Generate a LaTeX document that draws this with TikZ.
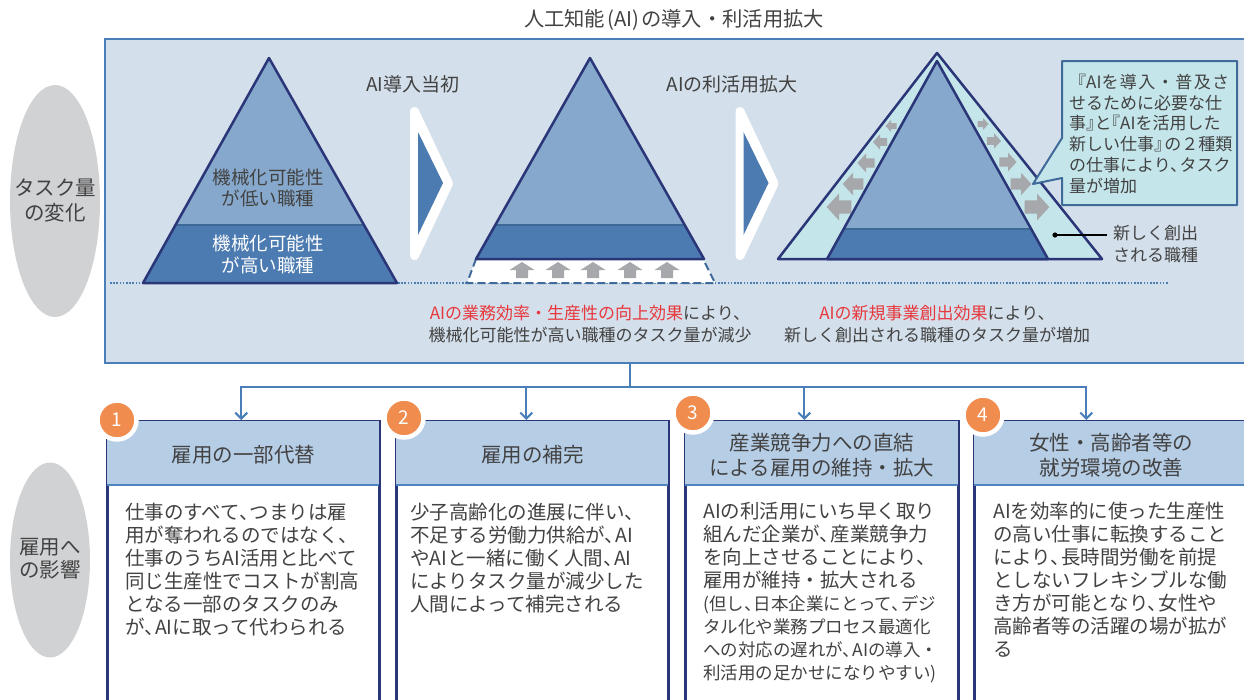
\documentclass[tikz,border=0pt]{standalone}
\usepackage{fontspec}
\setmainfont{Noto Sans CJK JP}
\usetikzlibrary{arrows.meta,calc,shapes.geometric}
\definecolor{panelfill}{HTML}{D3DFEA}
\definecolor{panelline}{HTML}{4A7EB8}
\definecolor{trilight}{HTML}{86A8CC}
\definecolor{tridark}{HTML}{4B7BB0}
\definecolor{divc}{HTML}{3E6896}
\definecolor{navy}{HTML}{2A3677}
\definecolor{cyanf}{HTML}{C4E5EA}
\definecolor{arrgray}{HTML}{A6A8AB}
\definecolor{ovalgray}{HTML}{D1D2D4}
\definecolor{headfill}{HTML}{B6CDE6}
\definecolor{orangec}{HTML}{EF8C4E}
\definecolor{redc}{HTML}{E8383D}
\definecolor{textc}{HTML}{424242}
\definecolor{sepblue}{HTML}{4F84BE}
\definecolor{dashc}{HTML}{3F6A99}
\newcommand\myfs[2]{\fontsize{#1}{#2}\selectfont}
\newcommand\tn{、\kern-.45em}
\begin{document}
\begin{tikzpicture}[x=1pt,y=-1pt,
  txt/.style={inner sep=0pt, align=center, text=textc},
  ltxt/.style={inner sep=0pt, align=left, text=textc, anchor=north west},
  ovalbox/.style={ellipse, fill=ovalgray, draw=none, inner sep=0pt},
  panelbox/.style={rectangle, fill=panelfill, draw=panelline, line width=2pt, inner sep=0pt},
  triborder/.style={draw=navy, line width=2.5pt, line join=round},
  divline/.style={draw=divc, line width=1.2pt},
  conn/.style={draw=panelline, line width=2pt},
  arrconn/.style={conn, -{Straight Barb[length=6pt,width=12pt,line width=2pt]}},
  jobbox/.style={rectangle, fill=white, draw=navy, line width=2.5pt, inner sep=0pt, anchor=north west, minimum height=300pt},
  numc/.style={circle, fill=orangec, draw=white, line width=4.5pt, minimum size=39pt, inner sep=0pt, text=white, font=\myfs{19}{22}},
  uparr/.style={fill=arrgray},
]
\useasboundingbox (0,0) rectangle (1244,699);
\clip (0,0) rectangle (1244,699);

% title
\node[txt, font=\myfs{20.3}{24}] (title) at (674,20) {人工知能\kern.1em(AI)\kern.1em の導入・利活用拡大};

% ovals
\node[ovalbox, minimum width=90pt, minimum height=232pt] (ov1) at (55,201) {};
\node[txt, font=\myfs{20.5}{25}] (ov1t) at (55,201) {タスク量\\の変化};
\node[ovalbox, minimum width=80pt, minimum height=195pt] (ov2) at (50,560) {};
\node[txt, font=\myfs{20.5}{23}] (ov2t) at (50,559) {雇用へ\\の影響};

% panel
\node[panelbox, minimum width=1150pt, minimum height=324pt, anchor=north west] (panel) at (104,38) {};

% dotted baseline
\draw[draw=panelline, line width=1.6pt, dash pattern=on 1.6pt off 1.6pt] (110,283) -- (1168,283);

% triangle 1
\begin{scope}
  \clip (269,58) -- (397,283) -- (143,283) -- cycle;
  \fill[trilight] (130,50) rectangle (410,290);
  \fill[tridark] (130,225) rectangle (410,290);
  \draw[divline] (130,225) -- (410,225);
\end{scope}
\draw[triborder] (269,58) -- (397,283) -- (143,283) -- cycle;
\node[txt, font=\myfs{18.5}{21}] (t1a) at (268,188) {機械化可能性\\が低い職種};
\node[txt, font=\myfs{18.5}{22}, text=white] (t1b) at (268,254) {機械化可能性\\が高い職種};

% chevrons
\draw[white, fill=white, line width=9pt, line join=round] (414.5,111.5) -- (448.5,183.5) -- (414.5,255.5) -- cycle;
\fill[tridark] (418,132) -- (443,183) -- (418,235) -- cycle;
\draw[white, fill=white, line width=9pt, line join=round] (740,111.5) -- (774,183.5) -- (740,255.5) -- cycle;
\fill[tridark] (743.5,132) -- (768.5,183) -- (743.5,235) -- cycle;
\node[txt, font=\myfs{19}{22}] (lab1) at (413,84) {AI導入当初};
\node[txt, font=\myfs{19}{22}] (lab2) at (732,84) {AIの利活用拡大};

% triangle 2 with dashed trapezoid
\fill[white] (476,259) -- (467,283) -- (715,283) -- (703,259) -- cycle;
\draw[draw=dashc, line width=2pt, dash pattern=on 8pt off 4pt, line join=round] (476,259) -- (467,283) -- (715,283) -- (703,259);
\foreach \ax in {522,558,593,630,667}{
  \fill[uparr] (\ax,262) -- (\ax+12.5,270) -- (\ax+6,270) -- (\ax+6,278) -- (\ax-6,278) -- (\ax-6,270) -- (\ax-12.5,270) -- cycle;
}
\begin{scope}
  \clip (590,58) -- (704,259) -- (476,259) -- cycle;
  \fill[trilight] (460,50) rectangle (720,270);
  \fill[tridark] (460,225) rectangle (720,270);
  \draw[divline] (460,225) -- (720,225);
\end{scope}
\draw[triborder] (590,58) -- (704,259) -- (476,259) -- cycle;

% triangle 3
\fill[cyanf] (937,53) -- (1102,259) -- (778,259) -- cycle;
\draw[triborder] (937,53) -- (1102,259) -- (778,259) -- cycle;
\foreach \px/\py/\s in {839/207/1.12, 853/184/0.94, 866/163/0.78, 880/142/0.64, 891/126/0.5}{
  \fill[arrgray, shift={(\px,\py)}, scale=\s] (-11,0) -- (0,-12) -- (0,-6) -- (11,-6) -- (11,6) -- (0,6) -- (0,12) -- cycle;
}
\foreach \px/\py/\s in {1037/207/1.12, 1021/184/0.94, 1008/162/0.78, 994/141/0.64, 983/124/0.5}{
  \fill[arrgray, shift={(\px,\py)}, scale=\s] (11,0) -- (0,-12) -- (0,-6) -- (-11,-6) -- (-11,6) -- (0,6) -- (0,12) -- cycle;
}
\begin{scope}
  \clip (937,61) -- (1048,259) -- (827,259) -- cycle;
  \fill[trilight] (820,50) rectangle (1060,270);
  \fill[tridark] (820,229) rectangle (1060,270);
  \draw[divline] (820,229) -- (1060,229);
\end{scope}
\draw[triborder] (937,61) -- (1048,259) -- (827,259) -- cycle;

% callout
\draw[fill=cyanf, draw=dashc, line width=2pt, line join=round] (1062,61) -- (1237,61) -- (1237,205) -- (1062,205) -- (1062,178) -- (1033,184) -- (1062,138) -- cycle;
\node[ltxt, font=\myfs{17}{20.7}] (callout) at (1069,74) {\hbox to 160pt{『AIを\hfill 導\hfill 入\hfill ・\hfill 普\hfill 及\hfill さ}\\せるために必要な仕\\事』\kern-.5em と\kern-.5em『AIを活用した\\新しい仕事』\kern-.4em の２種類\\の仕事により\tn タスク\\量が増加};

% new job label
\coordinate (dot) at (1055,235);
\node[ltxt, font=\myfs{17}{22}, anchor=west] (newjob) at (1113,244) {新しく創出\\される職種};
\fill[black] (dot) circle (2.6pt);
\draw[black, line width=1.3pt, shorten >=6pt] (dot) -- (dot -| newjob.west);

% panel bottom texts
\node[txt, font=\myfs{17}{22}] (eff1) at (590,324) {\textcolor{redc}{AIの業務効率・生産性の向上効果}により、\\機械化可能性が高い職種のタスク量が減少};
\node[txt, font=\myfs{17}{22}] (eff2) at (937,324) {\textcolor{redc}{AIの新規事業創出効果}により、\\新しく創出される職種のタスク量が増加};

% boxes
\node[jobbox, minimum width=272pt] (box1) at (106,420) {};
\node[jobbox, minimum width=272pt] (box2) at (395,420) {};
\node[jobbox, minimum width=273pt] (box3) at (684,420) {};
\node[jobbox, minimum width=274pt] (box4) at (973,420) {};
\foreach \b in {box1,box2,box3,box4}{
  \fill[headfill] ($(\b.north west)+(1.3,1.3)$) rectangle ($(\b.north east)+(-1.3,65)$);
  \draw[draw=sepblue, line width=2pt] ($(\b.north west)+(1.3,65)$) -- ($(\b.north east)+(-1.3,65)$);
}

% connectors
\coordinate (split) at (630,387);
\draw[conn] (panel.south -| split) -- (split);
\draw[arrconn] (split) -| ($(box1.north)+(-2,0)$);
\draw[arrconn] (split) -| ($(box2.north)+(-6,0)$);
\draw[arrconn] (split) -| ($(box3.north)+(-17.5,0)$);
\draw[arrconn] (split) -| ($(box4.north)+(-25,0)$);

% number badges
\node[numc] (n1) at (117,420) {1};
\node[numc] (n2) at (404,418) {2};
\node[numc] (n3) at (693,413) {3};
\node[numc] (n4) at (983,415) {4};

% headers
\node[txt, font=\myfs{20.5}{25}] (h1) at ($(box1.north)+(0,35)$) {雇用の一部代替};
\node[txt, font=\myfs{20.5}{25}] (h2) at ($(box2.north)+(0,35)$) {雇用の補完};
\node[txt, font=\myfs{20.5}{25}] (h3) at ($(box3.north)+(0,35)$) {産業競争力への直結\\による雇用の維持・拡大};
\node[txt, font=\myfs{20.5}{25}] (h4) at ($(box4.north)+(0,35)$) {女性・高齢者等の\\就労環境の改善};

% body texts
\node[ltxt, font=\myfs{19.5}{23}] (b1) at ($(box1.north west)+(19,83)$) {仕事のすべて\tn つまりは雇\\用が奪われるのではなく、\\仕事のうちAI活用と比べて\\同じ生産性でコストが割高\\となる一部のタスクのみ\\が\tn AIに取って代わられる};
\node[ltxt, font=\myfs{19.5}{23}] (b2) at ($(box2.north west)+(15,83)$) {少子高齢化の進展に伴い、\\不足する労働力供給が\tn AI\\やAIと一緒に働く人間\tn AI\\によりタスク量が減少した\\人間によって補完される};
\node[ltxt, font=\myfs{19.5}{23}] (b3) at ($(box3.north west)+(19,82)$) {AIの利活用にいち早く取り\\組んだ企業が\tn 産業競争力\\を向上させることにより、\\雇用が維持・拡大される};
\node[ltxt, font=\myfs{17.5}{23}, anchor=north west] (b3s) at ($(box3.north west)+(19,175)$) {(但し\tn 日本企業にとって\tn デジ\\タル化や業務プロセス最適化\\への対応の遅れが\tn AIの導入・\\利活用の足かせになりやすい)};
\node[ltxt, font=\myfs{19.5}{23}] (b4) at ($(box4.north west)+(20,82)$) {AIを効率的に使った生産性\\の高い仕事に転換すること\\により\tn 長時間労働を前提\\としないフレキシブルな働\\き方が可能となり\tn 女性や\\高齢者等の活躍の場が拡が\\る};
\end{tikzpicture}
\end{document}
